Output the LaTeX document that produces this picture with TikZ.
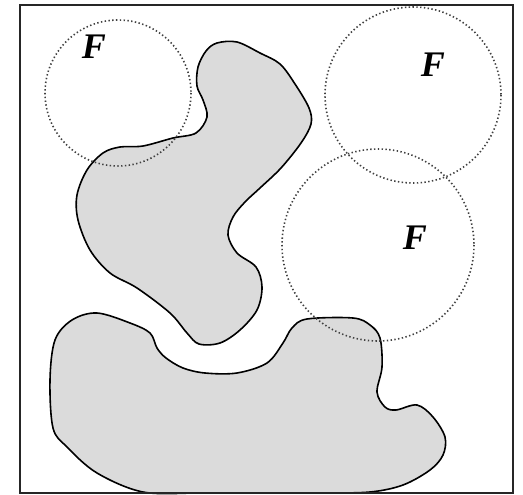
\documentclass[tikz,border=0pt]{standalone}
\usepackage{fontspec}
\setmainfont{Liberation Serif}
\begin{document}
\begin{tikzpicture}[x=1pt,y=-1pt,
  region/.style={draw=black,line width=1.6pt,fill=black!14},
  freedisc/.style={draw=black!75,line width=1.6pt,dash pattern=on 1.4pt off 2.4pt},
  flabel/.style={font=\fontsize{36}{36}\selectfont\bfseries\itshape,inner sep=0pt}]
\useasboundingbox (0,0) rectangle (523,495);
\fill[white] (0,0) rectangle (523,495);
% upper obstacle
\draw[region] plot[smooth cycle,tension=0.55] coordinates {
  (217,43) (237,42) (260,53) (280,64) (295,84) (309,108) (311,124) (301,143)
  (281,168) (260,188) (245,202) (233,217) (228,235) (237,253) (256,267)
  (262,287) (257,310) (240,330) (220,343) (199,344) (187,333) (170,313)
  (137,288) (110,273) (90,250) (78,220) (77,195) (87,170) (103,153) (120,147)
  (143,146) (173,138) (196,133) (207,117) (203,100) (197,86) (198,67) (206,51)};
% lower obstacle
\draw[region] plot[smooth cycle,tension=0.55] coordinates {
  (97,313) (130,323) (150,333) (157,348) (166,358) (183,368) (205,373)
  (237,373) (267,363) (283,343) (292,328) (307,319) (353,318) (370,325)
  (380,338) (382,367) (377,392) (385,407) (396,410) (417,405) (433,417)
  (445,437) (443,455) (430,470) (403,485) (370,492) (320,493) (260,493)
  (200,493) (143,492) (97,473) (67,447) (53,428) (50,380) (55,340) (72,320)};
% free discs
\draw[freedisc] (118,93) circle (73);
\draw[freedisc] (413,95) circle (88);
\draw[freedisc] (378,245) circle (96);
\node[flabel] (f1) at (94,47) {F};
\node[flabel] (f2) at (433,65) {F};
\node[flabel] (f3) at (415,238) {F};
% frame
\draw[black!85,line width=2.6pt] (20,5) rectangle (513,493);
\end{tikzpicture}
\end{document}
